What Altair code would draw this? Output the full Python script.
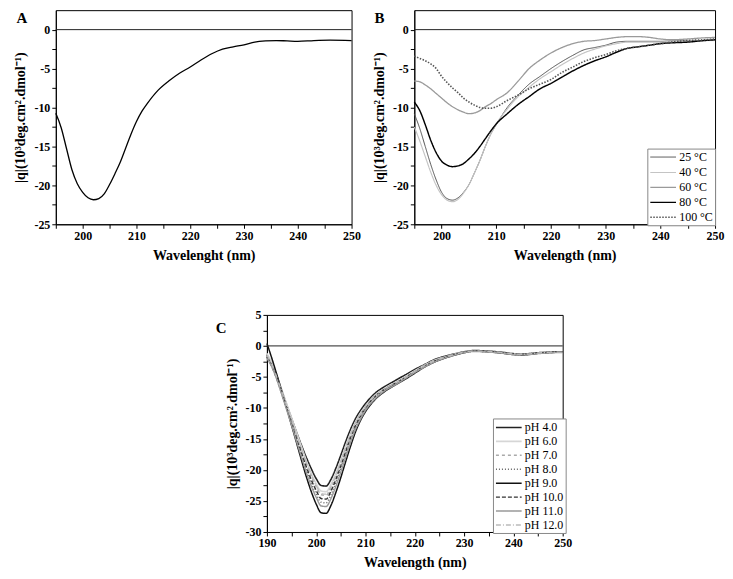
import altair as alt
import pandas as pd

# ---------------- Panel A ----------------
A_WL = [195, 196, 197, 198, 199, 200, 201, 202, 203, 204, 205, 206, 207, 208, 209, 210, 211, 212,
        214, 216, 218, 220, 222, 224, 226, 228, 230, 232, 234, 236, 238, 240, 243, 246, 250]
A_VAL = [-10.75, -12.6, -15.3, -18.0, -19.8, -20.9, -21.6, -21.85, -21.7, -21.1, -19.9, -18.5, -17.0,
         -15.2, -13.4, -11.8, -10.5, -9.5, -7.8, -6.6, -5.6, -4.8, -3.9, -3.1, -2.5, -2.2, -1.95, -1.6,
         -1.45, -1.4, -1.45, -1.5, -1.4, -1.35, -1.4]

# ---------------- Panel B ----------------
B_WL = [195, 196, 197, 198, 199, 200, 201, 202, 203, 204, 205, 206, 207, 208, 209, 210, 212, 214,
        216, 218, 220, 222, 224, 226, 228, 230, 232, 234, 236, 238, 240, 242, 245, 248, 250]
B_25 = [-10.8, -12.7, -15.0, -17.3, -19.3, -20.9, -21.7, -21.9, -21.6, -20.9, -19.9, -18.4, -16.8,
        -15.0, -13.4, -12.2, -10.0, -8.4, -7.0, -6.0, -5.0, -4.1, -3.3, -2.6, -2.3, -2.0, -1.6, -1.5,
        -1.5, -1.5, -1.5, -1.45, -1.4, -1.4, -1.4]
B_40 = [-12.5, -14.3, -16.3, -18.3, -20.0, -21.2, -21.9, -22.1, -21.8, -21.0, -19.9, -18.4, -16.8,
        -15.0, -13.4, -12.1, -10.2, -8.6, -7.4, -6.3, -5.4, -4.5, -3.7, -3.0, -2.5, -2.1, -1.8, -1.6,
        -1.6, -1.6, -1.6, -1.5, -1.45, -1.4, -1.4]
B_60 = [-6.6, -6.7, -7.1, -7.6, -8.2, -8.8, -9.4, -9.9, -10.3, -10.6, -10.8, -10.7, -10.4, -9.9,
        -9.5, -9.0, -8.1, -6.6, -5.0, -3.9, -3.0, -2.3, -1.8, -1.5, -1.4, -1.2, -1.0, -0.9, -0.9, -1.0,
        -1.2, -1.3, -1.2, -1.05, -1.0]
B_80 = [-9.3, -10.4, -12.2, -14.2, -15.8, -16.9, -17.4, -17.6, -17.5, -17.2, -16.6, -15.9, -15.0,
        -14.0, -13.0, -12.1, -10.8, -9.6, -8.6, -7.6, -6.9, -6.1, -5.3, -4.6, -4.0, -3.5, -2.9, -2.4,
        -2.2, -2.0, -1.8, -1.7, -1.6, -1.4, -1.3]
B_100 = [-3.4, -3.7, -4.0, -4.4, -5.0, -6.0, -6.8, -7.5, -8.1, -8.8, -9.3, -9.7, -10.0, -10.1, -10.1,
         -9.9, -9.1, -8.4, -7.6, -7.0, -6.4, -5.5, -4.8, -4.1, -3.6, -3.2, -2.7, -2.4, -2.2, -2.0, -1.8,
         -1.6, -1.4, -1.3, -1.2]
B_SERIES = ["25 °C", "40 °C", "60 °C", "80 °C", "100 °C"]
B_COLORS = ["#505050", "#c4c4c4", "#9a9a9a", "#000000", "#555555"]
B_DASH = [[1, 0], [1, 0], [1, 0], [1, 0], [1.5, 1.5]]
B_WIDTH = [1.0, 1.6, 1.6, 1.8, 1.0]

# ---------------- Panel C ----------------
C_WL = [190, 191, 192, 193, 194, 195, 196, 197, 198, 199, 200, 201, 202, 203, 204, 205, 206, 207,
        208, 209, 210, 212, 214, 216, 218, 220, 222, 224, 226, 228, 230, 232, 235, 238, 240, 242, 245,
        248, 250]
C_PH4 = [-1.4, -2.9, -4.9, -7.2, -9.5, -11.7, -13.9, -16.0, -18.0, -19.8, -21.4, -22.5, -22.6, -21.5,
         -19.7, -17.6, -15.4, -13.4, -11.7, -10.4, -9.3, -7.6, -6.5, -5.6, -4.7, -3.8, -3.0, -2.2, -1.7,
         -1.3, -0.95, -0.75, -0.85, -1.05, -1.25, -1.3, -1.1, -1.0, -0.95]
C_PH6 = [-1.2, -2.7, -4.7, -7.0, -9.3, -11.6, -13.9, -16.2, -18.5, -20.5, -22.2, -23.4, -23.5, -22.3,
         -20.5, -18.4, -16.1, -14.0, -12.2, -10.8, -9.7, -7.9, -6.8, -5.9, -5.0, -4.0, -3.1, -2.3, -1.8,
         -1.35, -1.0, -0.8, -0.9, -1.1, -1.3, -1.35, -1.15, -1.0, -1.0]
C_PH7 = [-1.6, -3.1, -5.1, -7.4, -9.8, -12.1, -14.5, -16.8, -19.0, -21.0, -22.7, -24.0, -24.1, -22.9,
         -21.0, -18.8, -16.5, -14.3, -12.4, -11.0, -9.8, -8.0, -6.9, -6.0, -5.1, -4.1, -3.2, -2.4, -1.85,
         -1.4, -1.0, -0.8, -0.9, -1.1, -1.3, -1.35, -1.15, -1.0, -1.0]
C_PH8 = [-1.7, -3.2, -5.3, -7.7, -10.1, -12.6, -15.1, -17.6, -20.0, -22.1, -23.9, -25.2, -25.3, -24.0,
         -22.0, -19.7, -17.3, -15.0, -13.0, -11.4, -10.1, -8.2, -7.0, -6.1, -5.2, -4.2, -3.3, -2.5, -1.9,
         -1.45, -1.05, -0.85, -0.95, -1.15, -1.35, -1.4, -1.2, -1.05, -1.0]
C_PH9 = [0.4, -2.0, -4.6, -7.3, -10.0, -12.8, -15.6, -18.4, -21.1, -23.5, -25.5, -26.9, -27.0, -25.7,
         -23.6, -21.2, -18.6, -16.1, -13.8, -12.0, -10.6, -8.6, -7.3, -6.3, -5.4, -4.4, -3.4, -2.6, -2.0,
         -1.5, -1.1, -0.85, -0.95, -1.2, -1.4, -1.45, -1.2, -1.05, -1.0]
C_PH10 = [-1.8, -3.3, -5.3, -7.6, -10.0, -12.4, -14.8, -17.2, -19.5, -21.6, -23.3, -24.6, -24.7, -23.4,
          -21.5, -19.3, -17.0, -14.7, -12.8, -11.3, -10.0, -8.1, -6.95, -6.05, -5.15, -4.15, -3.25, -2.45,
          -1.9, -1.4, -1.0, -0.8, -0.9, -1.1, -1.3, -1.35, -1.15, -1.0, -1.0]
C_PH11 = [-2.0, -3.4, -5.4, -7.8, -10.3, -12.8, -15.4, -17.9, -20.4, -22.6, -24.4, -25.8, -25.9, -24.6,
          -22.6, -20.3, -17.9, -15.5, -13.4, -11.8, -10.4, -8.5, -7.2, -6.3, -5.3, -4.3, -3.4, -2.6, -2.0,
          -1.5, -1.1, -0.9, -1.0, -1.2, -1.4, -1.45, -1.25, -1.1, -1.05]
C_PH12 = [-1.5, -3.0, -5.0, -7.3, -9.6, -11.9, -14.3, -16.6, -18.8, -20.8, -22.5, -23.8, -23.9, -22.7,
          -20.9, -18.7, -16.4, -14.3, -12.4, -11.0, -9.8, -8.0, -6.9, -6.0, -5.1, -4.1, -3.2, -2.4, -1.85,
          -1.4, -1.0, -0.8, -0.9, -1.1, -1.3, -1.35, -1.15, -1.0, -1.0]
C_SERIES = ["pH 4.0", "pH 6.0", "pH 7.0", "pH 8.0", "pH 9.0", "pH 10.0", "pH 11.0", "pH 12.0"]
C_COLORS = ["#222222", "#d6d6d6", "#aaaaaa", "#666666", "#111111", "#333333", "#999999", "#bbbbbb"]
C_DASH = [[1, 0], [1, 0], [3, 3], [1, 2], [1, 0], [4, 2], [1, 0], [5, 2, 1, 2]]
C_WIDTH = [1.6, 1.4, 1.0, 1.2, 1.0, 1.0, 2.0, 1.0]

SERIF = "Liberation Serif"
YTITLE = "|q|(10³deg.cm².dmol⁻¹)"


def long_df(wl, series_names, series_vals):
    rows = []
    for name, vals in zip(series_names, series_vals):
        for w, v in zip(wl, vals):
            rows.append({"wl": w, "val": v, "s": name})
    return pd.DataFrame(rows)


def enc_x(xmin, xmax, title):
    return alt.X("wl:Q",
                 scale=alt.Scale(domain=[xmin, xmax], nice=False, zero=False),
                 axis=alt.Axis(values=list(range(xmin, xmax + 1, 5)), labelOverlap=False,
                               labelFlush=False,
                               labelExpr="datum.value % 10 === 0 ? '' + datum.value : ''",
                               tickSize=4,
                               title=title, titlePadding=7, labelPadding=2))


def enc_y(ymin, ymax, ytop):
    n = int(round((ytop - ymin) / 2.5))
    vals = [ymin + 2.5 * i for i in range(n + 1)]
    return alt.Y("val:Q",
                 scale=alt.Scale(domain=[ymin, ymax], nice=False, zero=False),
                 axis=alt.Axis(values=vals, labelOverlap=False, labelFlush=False,
                               labelExpr="datum.value % 5 === 0 ? '' + datum.value : ''",
                               tickSize=4,
                               title=YTITLE, titlePadding=6, labelPadding=2))


def zero_rule(ymin, ymax, ytop):
    return alt.Chart(pd.DataFrame({"val": [0]})).mark_rule(color="#222222", strokeWidth=1).encode(
        y=enc_y(ymin, ymax, ytop))


def letter(t, dx, dy):
    return alt.Chart(pd.DataFrame({"t": [t]})).mark_text(
        font=SERIF, fontWeight="bold", fontSize=15, color="black", align="center", baseline="middle"
    ).encode(text="t:N", x=alt.value(dx), y=alt.value(dy))


def legend(x, y, row_pad):
    return alt.Legend(title=None, orient="none", legendX=x, legendY=y,
                      symbolType="M-1,0H3.3", symbolSize=144, labelOffset=16,
                      labelFont=SERIF, labelFontSize=12, labelColor="black",
                      fillColor="white", strokeColor="#888888", padding=2, rowPadding=row_pad,
                      symbolStrokeWidth=1.2)


def indep(ch):
    return ch.resolve_scale(x="independent", y="independent", color="independent",
                            strokeDash="independent", strokeWidth="independent").resolve_legend(
        color="independent", strokeDash="independent", strokeWidth="independent")


# Panel A
dfA = pd.DataFrame({"wl": A_WL, "val": A_VAL})
lineA = alt.Chart(dfA).mark_line(interpolate="monotone", color="black", strokeWidth=1.3).encode(
    x=enc_x(195, 250, "Wavelenght (nm)"), y=enc_y(-25, 2.5, 0))
panelA = alt.layer(lineA, zero_rule(-25, 2.5, 0), letter("A", -34, 8)).properties(width=297, height=215)

# Panel B
dfB = long_df(B_WL, B_SERIES, [B_25, B_40, B_60, B_80, B_100])
legB = legend(234, 139, 2)
lineB = alt.Chart(dfB).mark_line(interpolate="monotone").encode(
    x=enc_x(195, 250, "Wavelength (nm)"), y=enc_y(-25, 2.5, 0),
    color=alt.Color("s:N", scale=alt.Scale(domain=B_SERIES, range=B_COLORS), legend=legB),
    strokeDash=alt.StrokeDash("s:N", scale=alt.Scale(domain=B_SERIES, range=B_DASH), legend=legB),
    strokeWidth=alt.StrokeWidth("s:N", scale=alt.Scale(domain=B_SERIES, range=B_WIDTH), legend=legB),
)
panelB = alt.layer(lineB, zero_rule(-25, 2.5, 0), letter("B", -35, 8)).properties(width=302, height=215)

# Panel C
dfC = long_df(C_WL, C_SERIES, [C_PH4, C_PH6, C_PH7, C_PH8, C_PH9, C_PH10, C_PH11, C_PH12])
legC = legend(227, 104, 1)
lineC = alt.Chart(dfC).mark_line(interpolate="monotone").encode(
    x=enc_x(190, 250, "Wavelength (nm)"), y=enc_y(-30, 5, 5),
    color=alt.Color("s:N", scale=alt.Scale(domain=C_SERIES, range=C_COLORS), legend=legC),
    strokeDash=alt.StrokeDash("s:N", scale=alt.Scale(domain=C_SERIES, range=C_DASH), legend=legC),
    strokeWidth=alt.StrokeWidth("s:N", scale=alt.Scale(domain=C_SERIES, range=C_WIDTH), legend=legC),
)
panelC = alt.layer(lineC, zero_rule(-30, 5, 5), letter("C", -46, 13)).properties(width=297, height=218)

spacer = alt.Chart(pd.DataFrame({"v": [0]})).mark_point(opacity=0).encode(
    x=alt.X("v:Q", axis=None), y=alt.Y("v:Q", axis=None)
).properties(width=150, height=10, view=alt.ViewBackground(stroke="transparent"))

row1 = indep(alt.hconcat(panelA, panelB, spacing=63, bounds="flush"))
row2 = indep(alt.hconcat(spacer, panelC, spacing=62, bounds="flush"))

chart = indep(alt.vconcat(row1, row2, spacing=45)).properties(
    padding={"left": 5, "top": 0, "right": 0, "bottom": 0}
).configure_view(
    stroke="black", strokeWidth=1
).configure_axis(
    domainColor="black", tickColor="black", labelFont=SERIF, labelFontWeight="bold",
    labelFontSize=12, labelColor="black", titleFont=SERIF, titleFontWeight="bold",
    titleFontSize=14, titleColor="black", grid=False, domainWidth=1
).configure_legend(
    labelColor="black", labelFont=SERIF
)

chart.save("out.html", embed_options={"renderer": "svg", "actions": False})
